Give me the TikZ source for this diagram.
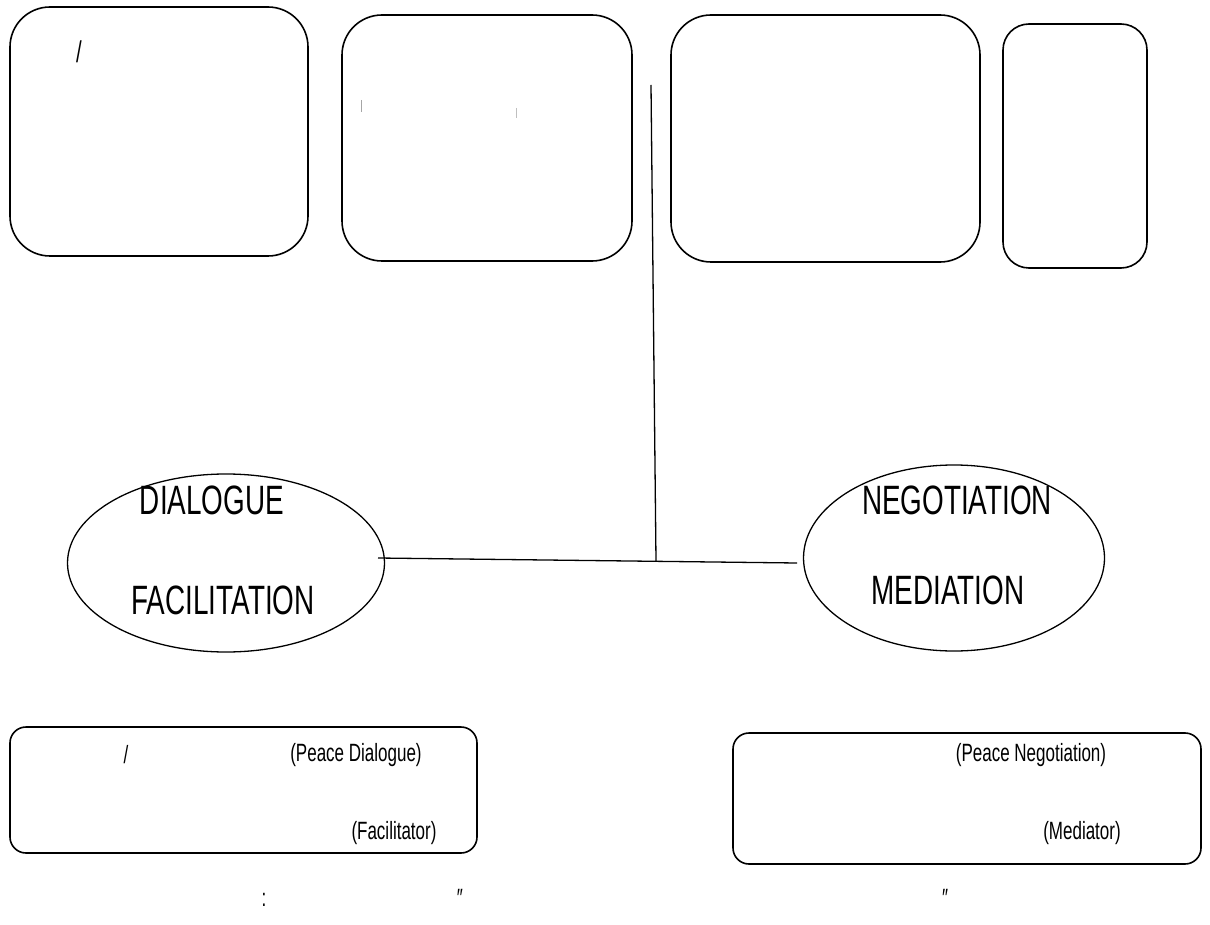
\documentclass[tikz,border=0pt]{standalone}
\usepackage{fontspec}
\setmainfont{Liberation Sans}[FakeStretch=0.68]
\usetikzlibrary{shapes.geometric}
\begin{document}
\begin{tikzpicture}[x=1pt,y=-1pt,
  rbox/.style={draw,line width=1.6pt,rounded corners=#1},
  oval/.style={draw,ellipse,line width=1.3pt,inner sep=0pt},
  big/.style={font=\fontsize{41}{42}\selectfont},
  small/.style={font=\fontsize{25}{26}\selectfont},
  conn/.style={line width=1.3pt}]
\useasboundingbox (0,0) rectangle (1210,925);
% top boxes
\draw[rbox=40pt] (10,7) rectangle (308,256);
\draw[rbox=40pt] (342,15) rectangle (632,261);
\draw[rbox=40pt] (671,15) rectangle (980,262);
\draw[rbox=26pt] (1003,24) rectangle (1147,268);
\node[font=\fontsize{30}{30}\selectfont] (slash1) at (79,52) {/};
\draw[gray!70,line width=1pt] (361,100) -- (361,112);
\draw[gray!50,line width=0.8pt] (516,108) -- (516,118);
% ellipses
\node[oval,minimum width=317pt,minimum height=178pt] (dia) at (226,563) {};
\node[oval,minimum width=301pt,minimum height=186pt] (neg) at (954,558) {};
\node[big] (t1) at (212,500) {DIALOGUE};
\node[big] (t2) at (223,600) {FACILITATION};
\node[big] (t3) at (957,500) {NEGOTIATION};
\node[big] (t4) at (948,590) {MEDIATION};
% connectors
\coordinate (lend) at (378,558);
\coordinate (rend) at (797,563);
\coordinate (top) at (651,85);
\coordinate (mid) at (656,561);
\draw[conn] (lend) -- (rend);
\draw[conn] (top) -- (mid);
% bottom boxes
\draw[rbox=16pt] (10,727) rectangle (477,853);
\draw[rbox=16pt] (733,733) rectangle (1201,864);
\node[small] (s1) at (126,755) {/};
\node[small] (pd) at (356,755) {(Peace Dialogue)};
\node[small] (fa) at (394,833) {(Facilitator)};
\node[small] (pn) at (1031,755) {(Peace Negotiation)};
\node[small] (me) at (1082,833) {(Mediator)};
% bottom line
\node[small] (colon) at (264,900) {:};
\node[small] (q1) at (460,898) {\char"2033};
\node[small] (q2) at (945,898) {\char"2033};
\end{tikzpicture}
\end{document}
